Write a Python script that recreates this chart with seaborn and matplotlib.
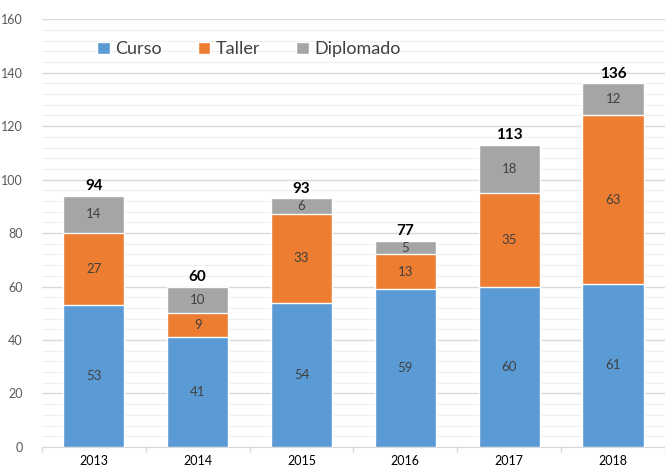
import numpy as np
import pandas as pd
import matplotlib
matplotlib.use("Agg")
from matplotlib import pyplot as plt
from matplotlib.ticker import MultipleLocator
import seaborn as sns

# Data
years = ["2013", "2014", "2015", "2016", "2017", "2018"]
curso = [53, 41, 54, 59, 60, 61]
taller = [27, 9, 33, 13, 35, 63]
diplomado = [14, 10, 6, 5, 18, 12]

colors = {"Curso": "#5B9BD5", "Taller": "#ED7D31", "Diplomado": "#A5A5A5"}

df = pd.DataFrame({"year": years, "Curso": curso, "Taller": taller, "Diplomado": diplomado})
df["total"] = df["Curso"] + df["Taller"] + df["Diplomado"]
df["curso_taller"] = df["Curso"] + df["Taller"]

sns.set_style("white")
plt.rcParams["font.family"] = ["Lato", "DejaVu Sans"]

fig = plt.figure(figsize=(6.65, 4.69), dpi=100)
ax = fig.add_axes([0.063, 0.047, 0.937, 0.912])

# Stacked bars by overlaying cumulative heights
w = 0.59
sns.barplot(data=df, x="year", y="total", color=colors["Diplomado"], width=w, saturation=1, ax=ax, label="Diplomado", zorder=3)
sns.barplot(data=df, x="year", y="curso_taller", color=colors["Taller"], width=w, saturation=1, ax=ax, label="Taller", zorder=3)
sns.barplot(data=df, x="year", y="Curso", color=colors["Curso"], width=w, saturation=1, ax=ax, label="Curso", zorder=3)

# Segment labels
for i, row in df.iterrows():
    ax.text(i, row["Curso"] / 2, str(row["Curso"]), ha="center", va="center", fontsize=9.5, color="#404040", zorder=4)
    ax.text(i, row["Curso"] + row["Taller"] / 2, str(row["Taller"]), ha="center", va="center", fontsize=9.5, color="#404040", zorder=4)
    ax.text(i, row["curso_taller"] + row["Diplomado"] / 2, str(row["Diplomado"]), ha="center", va="center", fontsize=9.5, color="#404040", zorder=4)
    ax.text(i, row["total"] + 1, str(row["total"]), ha="center", va="bottom", fontsize=11, fontweight="bold", color="black", zorder=4)

# Axes styling (Excel look)
ax.set_ylim(0, 160)
ax.set_xlim(-0.5, 5.5)
ax.yaxis.set_major_locator(MultipleLocator(20))
ax.yaxis.set_minor_locator(MultipleLocator(4))
ax.grid(axis="y", which="major", color="#D9D9D9", linewidth=1.0, zorder=0)
ax.grid(axis="y", which="minor", color="#EFEFEF", linewidth=0.8, zorder=0)
ax.set_axisbelow(True)
for s in ["top", "right", "left"]:
    ax.spines[s].set_visible(False)
ax.spines["bottom"].set_color("#D9D9D9")
ax.set_xlabel("")
ax.set_ylabel("")
ax.tick_params(axis="y", which="both", length=0, labelsize=9, labelcolor="#595959", pad=14)
ax.tick_params(axis="x", length=0, labelsize=9, labelcolor="black", pad=6)
for xb in np.arange(-0.5, 6.0, 1.0):
    ax.plot([xb, xb], [0, -2], color="#D9D9D9", linewidth=1, clip_on=False)

# Legend in the Curso, Taller, Diplomado order
handles, labels = ax.get_legend_handles_labels()
order = ["Curso", "Taller", "Diplomado"]
hmap = dict(zip(labels, handles))
ax.legend([hmap[k] for k in order], order, loc="center left", bbox_to_anchor=(0.074, 0.93), ncol=3,
          frameon=False, fontsize=13, handlelength=0.7, handleheight=0.7, handletextpad=0.3,
          columnspacing=2.0, labelcolor="#404040", borderpad=0)

fig.savefig("out.png", dpi=100)
